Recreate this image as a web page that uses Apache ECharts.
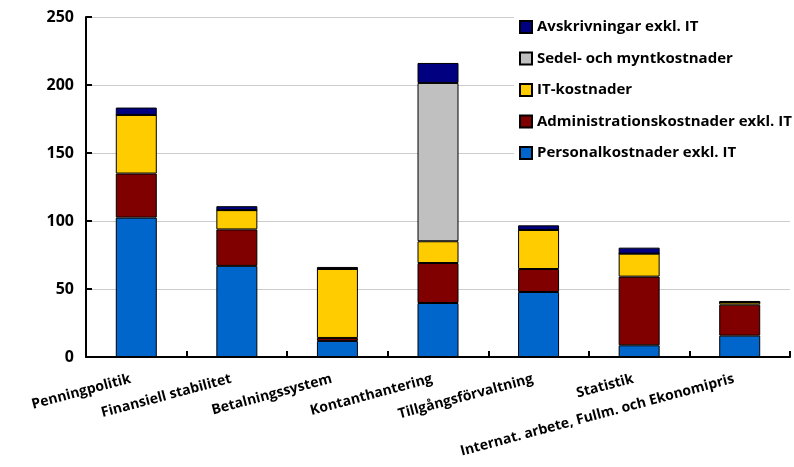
<!DOCTYPE html>
<html>
<head>
<meta charset="utf-8">
<script src="https://cdn.jsdelivr.net/npm/echarts@6/dist/echarts.min.js"></script>
<style>
  html, body { margin: 0; padding: 0; background: #fff; }
  #chart { width: 794px; height: 467px; }
</style>
</head>
<body>
<div id="chart"></div>
<script>
var categories = ['Penningpolitik', 'Finansiell stabilitet', 'Betalningssystem', 'Kontanthantering',
    'Tillgångsförvaltning', 'Statistik', 'Internat. arbete, Fullm. och Ekonomipris'];

// stacked from the bottom up
var personal = [102.5, 67.0, 11.8, 39.7, 47.8, 8.6, 15.7];
var admin = [32.4, 26.8, 2.2, 29.4, 16.9, 50.5, 22.8];
var itCost = [43.1, 14.2, 50.7, 16.0, 28.7, 16.9, 1.7];
var sedel = [0, 0, 0, 116.4, 0, 0, 0];
var avskr = [5.4, 2.9, 1.5, 14.7, 3.4, 4.4, 1.0];

var yTicks = [0, 50, 100, 150, 200, 250];

var font = '"Open Sans", "Noto Sans", sans-serif';

var chart = echarts.init(document.getElementById('chart'));

function bar(name, data, color) {
    return {
        name: name,
        type: 'bar',
        stack: 'total',
        barWidth: 41,
        data: data,
        itemStyle: { color: color, borderColor: '#000', borderWidth: 1 }
    };
}

var option = {
    animation: false,
    backgroundColor: '#fff',
    grid: { left: 86, right: 4, top: 17, bottom: 110 },
    legend: {
        orient: 'vertical',
        left: 514,
        top: 10,
        padding: [8, 4, 8, 5],
        backgroundColor: '#fff',
        itemWidth: 12,
        itemHeight: 12,
        itemGap: 13.5,
        icon: 'rect',
        textStyle: { fontFamily: font, fontWeight: 'bold', fontSize: 15, color: '#000', lineHeight: 18 },
        data: ['Avskrivningar exkl. IT', 'Sedel- och myntkostnader', 'IT-kostnader',
            'Administrationskostnader exkl. IT', 'Personalkostnader exkl. IT']
    },
    xAxis: {
        type: 'category',
        data: categories,
        axisLine: { lineStyle: { color: '#000', width: 2 } },
        axisTick: { show: true, inside: true, length: 6, lineStyle: { color: '#000', width: 2 } },
        axisLabel: {
            interval: 0,
            rotate: 15,
            margin: 20,
            padding: [0, 6, 0, 0],
            fontFamily: font,
            fontWeight: 'bold',
            fontSize: 14,
            color: '#000'
        }
    },
    yAxis: {
        type: 'value',
        min: yTicks[0],
        max: yTicks[yTicks.length - 1],
        interval: 50,
        axisLine: { show: true, lineStyle: { color: '#000', width: 2 } },
        axisTick: { show: true, inside: true, length: 6, lineStyle: { color: '#000', width: 2 } },
        axisLabel: { fontFamily: font, fontWeight: 'bold', fontSize: 16, color: '#000', margin: 12 },
        splitLine: { lineStyle: { color: '#cccccc', width: 1 } }
    },
    series: [
        bar('Personalkostnader exkl. IT', personal, '#0066cc'),
        bar('Administrationskostnader exkl. IT', admin, '#800000'),
        bar('IT-kostnader', itCost, '#ffcc00'),
        bar('Sedel- och myntkostnader', sedel, '#c0c0c0'),
        bar('Avskrivningar exkl. IT', avskr, '#000080')
    ]
};

chart.setOption(option);
</script>
</body>
</html>
